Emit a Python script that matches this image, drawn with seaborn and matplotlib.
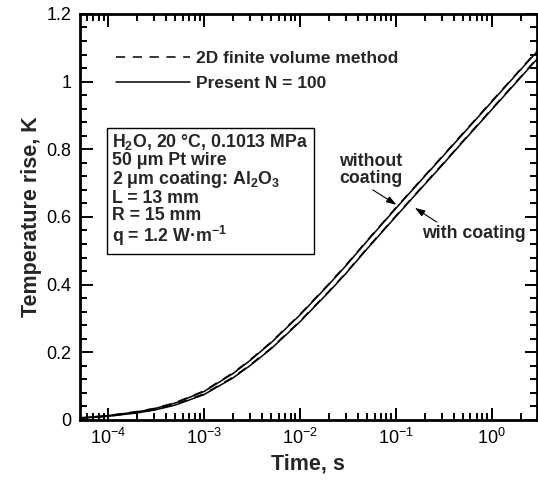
import matplotlib
matplotlib.use('Agg')
from matplotlib import pyplot as plt
from matplotlib.ticker import MultipleLocator, LogLocator, NullFormatter
import pandas as pd
import numpy as np
import seaborn as sns

# time (s)
time = [5e-5, 1e-4, 2e-4, 3e-4, 5e-4, 1e-3, 2e-3, 3e-3, 5e-3, 1e-2,
        2e-2, 3e-2, 5e-2, 0.1, 0.2, 0.3, 0.5, 1.0, 2.0, 3.0]

# temperature rise (K), without coating
present_bare = [0.006, 0.013, 0.024, 0.033, 0.050, 0.084, 0.137, 0.175, 0.228, 0.310,
                0.400, 0.455, 0.528, 0.625, 0.720, 0.775, 0.845, 0.940, 1.035, 1.090]
fvm_bare = [0.006, 0.013, 0.025, 0.034, 0.051, 0.086, 0.139, 0.177, 0.230, 0.312,
            0.402, 0.457, 0.530, 0.627, 0.722, 0.777, 0.847, 0.942, 1.037, 1.092]
# with 2 um Al2O3 coating
present_coat = [0.005, 0.011, 0.021, 0.029, 0.044, 0.075, 0.124, 0.160, 0.210, 0.290,
                0.378, 0.432, 0.505, 0.601, 0.696, 0.751, 0.822, 0.917, 1.012, 1.068]
fvm_coat = [0.005, 0.011, 0.022, 0.030, 0.046, 0.077, 0.126, 0.162, 0.212, 0.292,
            0.380, 0.434, 0.507, 0.603, 0.698, 0.753, 0.824, 0.919, 1.014, 1.070]

methods = ['2D finite volume method', 'Present N = 100']

rows = []
for coat, fvm, pres in [('without', fvm_bare, present_bare), ('with', fvm_coat, present_coat)]:
    for t, a, b in zip(time, fvm, pres):
        rows.append([t, a, methods[0], coat])
        rows.append([t, b, methods[1], coat])
df = pd.DataFrame(rows, columns=['time', 'rise', 'method', 'coating'])

sns.set_style('ticks')
plt.rcParams['font.family'] = ['Liberation Sans', 'DejaVu Sans']
plt.rcParams['mathtext.fontset'] = 'custom'
plt.rcParams['mathtext.rm'] = 'Liberation Sans'
plt.rcParams['mathtext.bf'] = 'Liberation Sans:bold'
plt.rcParams['lines.linewidth'] = 1.1

fig = plt.figure(figsize=(5.38, 4.8), dpi=100)
ax = fig.add_axes([0.1487, 0.125, 0.849, 0.846])

sns.lineplot(data=df, x='time', y='rise', style='method', style_order=methods,
             units='coating', estimator=None, color='k', linewidth=1.1,
             dashes={methods[0]: (6, 5), methods[1]: ''}, ax=ax)

ax.set_xscale('log')
ax.set_xlim(5.1e-5, 2.95)
ax.set_ylim(0, 1.2)
ax.yaxis.set_minor_locator(MultipleLocator(0.04))
ax.set_yticks([0, 0.2, 0.4, 0.6, 0.8, 1.0, 1.2])
ax.set_yticklabels(['0', '0.2', '0.4', '0.6', '0.8', '1', '1.2'])
ax.xaxis.set_major_locator(LogLocator(base=10, numticks=10))
ax.xaxis.set_minor_locator(LogLocator(base=10, subs=np.arange(2, 10), numticks=20))
ax.xaxis.set_minor_formatter(NullFormatter())

ax.tick_params(which='both', direction='in', top=True, right=True, width=1.4,
               labelsize=13, colors='k')
ax.tick_params(which='major', length=9, pad=6)
ax.tick_params(which='minor', length=5)
for sp in ax.spines.values():
    sp.set_linewidth(2)
    sp.set_color('k')

ax.set_xlabel('Time, s', fontsize=15.5, fontweight='bold', labelpad=4)
ax.set_ylabel('Temperature rise, K', fontsize=15.5, fontweight='bold', labelpad=3)

sns.move_legend(ax, loc='upper left', bbox_to_anchor=(0.079, 0.91), title=None,
                frameon=False, handlelength=4.25, handletextpad=0.35, borderpad=0,
                borderaxespad=0, labelspacing=0.6,
                prop={'weight': 'bold', 'size': 12.5})

info = ('H$_\\mathbf{2}$O, 20 \u00b0C, 0.1013 MPa\n'
        '50 \u03bcm Pt wire\n'
        '2 \u03bcm coating: Al$_\\mathbf{2}$O$_\\mathbf{3}$\n'
        'L = 13 mm\n'
        'R = 15 mm\n'
        'q = 1.2 W\u00b7m$^\\mathbf{-1}$')
ax.text(0.070, 0.709, info, transform=ax.transAxes, ha='left', va='top',
        fontsize=12.8, fontweight='bold', linespacing=1.0,
        bbox=dict(boxstyle='square,pad=0.3', fc='white', ec='k', lw=1))

ax.text(0.0549, 0.739, 'without\ncoating', ha='center', va='center',
        fontsize=12.8, fontweight='bold', linespacing=1.05)
ax.text(0.649, 0.550, 'with coating', ha='center', va='center',
        fontsize=12.8, fontweight='bold')
arrow = dict(arrowstyle='-|>,head_length=0.6,head_width=0.2', color='k', lw=0.8,
             shrinkA=0, shrinkB=0)
ax.annotate('', xy=(0.1016, 0.636), xytext=(0.0575, 0.680), arrowprops=arrow)
ax.annotate('', xy=(0.158, 0.627), xytext=(0.267, 0.585), arrowprops=arrow)

plt.savefig('out.png', dpi=100)
